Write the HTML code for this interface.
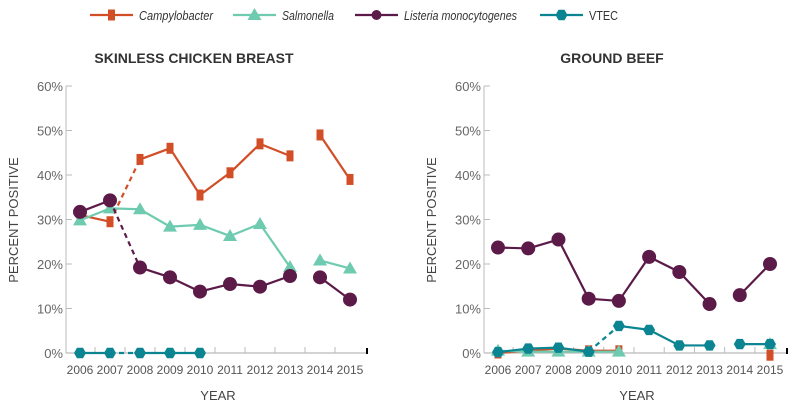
<!DOCTYPE html>
<html><head><meta charset="utf-8"><style>
body{margin:0;background:#fff;width:800px;height:410px;overflow:hidden;font-family:"Liberation Sans",sans-serif}
svg text{font-family:"Liberation Sans",sans-serif}
</style></head><body>
<svg id="c" width="800" height="410" xmlns="http://www.w3.org/2000/svg"></svg>
<script>
const years=[2006,2007,2008,2009,2010,2011,2012,2013,2014,2015];
const yTicks=[0,10,20,30,40,50,60];
const seriesNames=["Campylobacter","Salmonella","Listeria monocytogenes","VTEC"];
const colors=["#d24e27","#6fcbb0","#5c1a48","#0b8591"];
// Skinless chicken breast
const chickCampy=[31,29.5,43.5,46,35.5,40.5,47,44.3,49,39];
const chickSalm=[29.8,32.5,32.3,28.4,28.8,26.3,29,19.3,20.8,19];
const chickList=[31.7,34.3,19.2,17,13.8,15.5,14.9,17.3,17,12];
const chickVtec=[0,0,0,0,0,null,null,null,null,null];
// Ground beef
const beefCampy=[0,0.5,1,0.5,0.5,null,null,null,null,-0.5];
const beefSalm=[0.5,0.3,0.3,0.3,0.3,null,null,null,null,2];
const beefList=[23.7,23.5,25.5,12.2,11.7,21.6,18.2,11,13,20];
const beefVtec=[0.2,1,1.2,0.3,6.1,5.2,1.7,1.7,2,2];
const chickDashed=[[1],[],[1],[1]];
const beefDashed=[[],[],[],[3]];
const gapAfter=7;

const svg=document.getElementById('c');
const NS="http://www.w3.org/2000/svg";
function mk(tag,attrs,parent){const e=document.createElementNS(NS,tag);for(const k in attrs)e.setAttribute(k,attrs[k]);(parent||svg).appendChild(e);return e;}

function marker(g,i,x,y,size){
  const c=colors[i];let m;
  if(i===0){m=mk('rect',{x:x-3.5,y:y-5.5,width:7,height:11,fill:c},g);}
  else if(i===1){m=mk('polygon',{points:`${x},${y-7} ${x+7},${y+5} ${x-7},${y+5}`,fill:c},g);}
  else if(i===2){m=mk('circle',{cx:x,cy:y,r:size||7,fill:c},g);}
  else{let p=[];for(let k=0;k<6;k++){const a=Math.PI/3*k;p.push((x+6*Math.cos(a)).toFixed(1)+','+(y+6*Math.sin(a)).toFixed(1));}m=mk('polygon',{points:p.join(' '),fill:c},g);}
  return m;
}

const legX=[90,233,355,540];
const legW=[74,52,113,29];
seriesNames.forEach((n,i)=>{
  const g=mk('g',{});
  
  
  mk('line',{x1:legX[i],y1:15,x2:legX[i]+43,y2:15,stroke:colors[i],'stroke-width':2.2},g);
  marker(g,i,legX[i]+21.5,15,5);
  const t=mk('text',{x:legX[i]+49,y:20,'font-size':13,fill:'#333','font-style':i===3?'normal':'italic',textLength:legW[i],lengthAdjust:'spacingAndGlyphs'},g);
  t.textContent=n;
});

function panel(name,title,tx,ax,x0,x1,data,dashed){
  const g=mk('g',{});
  
  
  const yb=353,yt=86;
  const sy=v=>yb-(v/60)*(yb-yt);
  const sx=i=>x0+i*(x1-x0)/9;
  const tt=mk('text',{x:tx,y:63,'text-anchor':'middle','font-size':14,'font-weight':'bold',fill:'#333'},g);
  
  
  tt.textContent=title;
  mk('line',{x1:ax,y1:yt,x2:ax,y2:yb,stroke:'#bbb','stroke-width':1},g);
  mk('line',{x1:ax,y1:yb,x2:sx(9)+17,y2:yb,stroke:'#bbb','stroke-width':1.2},g);
  mk('line',{x1:sx(9)+17,y1:348,x2:sx(9)+17,y2:354,stroke:'#000','stroke-width':2},g);
  for(let i=0;i<9;i++){const xx=(sx(i)+sx(i+1))/2;mk('line',{x1:xx,y1:yb-6,x2:xx,y2:yb,stroke:'#bbb'},g);}
  yTicks.forEach(v=>{
    mk('line',{x1:ax,y1:sy(v),x2:ax+6,y2:sy(v),stroke:'#bbb'},g);
    const t=mk('text',{x:ax-3,y:sy(v)+5,'text-anchor':'end','font-size':13,fill:'#666'},g);
    t.textContent=v+'%';
  });
  years.forEach((y,i)=>{const t=mk('text',{x:sx(i),y:374,'text-anchor':'middle','font-size':12,fill:'#555'},g);t.textContent=y;});
  const xt=mk('text',{x:(ax+sx(9))/2+10,y:400,'text-anchor':'middle','font-size':13,fill:'#444'},g);
  
  
  xt.textContent='YEAR';
  const yl=mk('text',{transform:`translate(${ax-48},220) rotate(-90)`,'text-anchor':'middle','font-size':13,fill:'#444'},g);
  
  
  yl.textContent='PERCENT POSITIVE';
  data.forEach((vals,s)=>{
    const sg=mk('g',{},g);
    
    
    for(let i=0;i<vals.length-1;i++){
      if(vals[i]==null||vals[i+1]==null||i===gapAfter)continue;
      const a={x1:sx(i),y1:sy(vals[i]),x2:sx(i+1),y2:sy(vals[i+1]),stroke:colors[s],'stroke-width':2.2};
      if(dashed[s].includes(i))a['stroke-dasharray']='5,4';
      mk('line',a,sg);
    }
    vals.forEach((v,i)=>{if(v==null)return;const m=marker(sg,s,sx(i),sy(v));});
  });
}
panel('chicken-panel','SKINLESS CHICKEN BREAST',194,66,80,350,[chickCampy,chickSalm,chickList,chickVtec],chickDashed);
panel('beef-panel','GROUND BEEF',612,484,498,770,[beefCampy,beefSalm,beefList,beefVtec],beefDashed);
</script>
</body></html>
